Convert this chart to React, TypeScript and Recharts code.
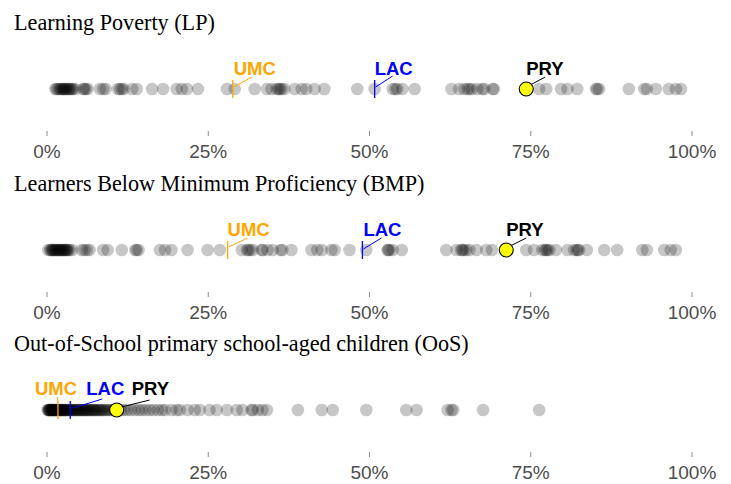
import React from 'react';
import { ScatterChart, Scatter, XAxis, YAxis } from 'recharts';

// ---------- DATA ----------
const panelTitles = [
  'Learning Poverty (LP)',
  'Learners Below Minimum Proficiency (BMP)',
  'Out-of-School primary school-aged children (OoS)',
];

const lpValues = [
  1.3, 1.5, 1.7, 2.0, 2.1, 2.3, 2.5, 2.6, 2.8, 2.9, 3.1, 3.3, 3.5, 3.6, 3.9, 4.0, 4.4, 5.6, 5.8,
  6.0, 6.3, 8.2, 8.7, 9.1, 11.0, 11.3, 11.6, 11.9, 13.2, 13.9, 16.3, 18.0, 20.1, 20.9, 21.7, 23.4,
  27.9, 29.1, 32.2, 34.1, 34.8, 35.6, 35.9, 36.1, 36.4, 36.8, 38.4, 39.5, 40.2, 41.5, 43.0, 48.1,
  50.8, 53.6, 54.0, 54.3, 55.1, 57.0, 62.7, 63.9, 64.7, 65.2, 65.5, 65.9, 66.7, 67.5, 67.8, 69.1,
  69.3, 76.3, 77.4, 79.7, 80.7, 82.2, 85.1, 85.3, 85.6, 90.2, 92.6, 93.0, 94.4, 96.4, 97.5, 98.3,
];

const bmpValues = [
  0.2, 0.5, 0.6, 0.8, 0.9, 1.0, 1.2, 1.3, 1.5, 1.6, 1.7, 1.9, 2.0, 2.2, 2.3, 2.4, 2.6, 2.7, 2.9,
  3.0, 3.1, 3.3, 3.5, 3.9, 5.4, 5.8, 6.2, 6.6, 8.7, 9.4, 11.6, 13.7, 13.9, 14.2, 17.5, 18.3, 19.3,
  21.8, 24.9, 26.8, 30.2, 31.0, 31.2, 31.5, 31.9, 33.3, 33.4, 34.2, 35.0, 36.2, 36.5, 37.9, 41.0,
  41.9, 42.6, 44.1, 44.6, 46.9, 49.5, 52.8, 52.9, 53.1, 53.6, 55.0, 61.9, 63.5, 64.2, 64.4, 64.6,
  65.0, 65.5, 66.6, 68.1, 69.0, 74.3, 75.5, 76.8, 77.2, 77.4, 77.6, 77.9, 78.9, 80.7, 81.7, 82.1,
  82.3, 82.5, 83.7, 86.4, 88.4, 92.3, 93.0, 95.7, 96.7, 97.5,
];

const oosValues = [
  0.1, 0.2, 0.3, 0.3, 0.4, 0.5, 0.5, 0.6, 0.7, 0.8, 0.8, 0.9, 1.0, 1.1, 1.1, 1.2, 1.3, 1.4, 1.5,
  1.5, 1.6, 1.7, 1.8, 1.9, 2.0, 2.1, 2.2, 2.3, 2.4, 2.5, 2.6, 2.7, 2.8, 2.9, 3.0, 3.1, 3.3, 3.4,
  3.5, 3.7, 3.8, 3.9, 4.0, 4.2, 4.3, 4.5, 4.6, 4.8, 4.9, 5.0, 5.2, 5.3, 5.5, 5.6, 5.8, 5.9, 6.1,
  6.2, 6.4, 6.5, 6.7, 6.9, 7.0, 7.2, 7.4, 7.5, 7.7, 7.9, 8.1, 8.3, 8.5, 8.7, 8.9, 9.2, 9.4, 9.7,
  10.0, 10.3, 10.6, 11.0, 11.4, 11.9, 12.4, 13.0, 13.6, 14.2, 14.7, 15.3, 15.9, 16.5, 17.2, 17.8,
  18.3, 19.3, 20.1, 20.6, 21.8, 22.9, 23.7, 25.2, 26.3, 27.9, 29.4, 30.3, 31.7, 31.9, 32.7, 33.4,
  34.1, 38.9, 42.6, 44.3, 49.5, 55.7, 57.3, 62.1, 62.7, 63.0, 67.6, 76.3,
];

const refNames = ['UMC', 'LAC', 'PRY'];
const lpRefs = [28.8, 50.8, 74.3];
const bmpRefs = [28.0, 48.9, 71.2];
const oosRefs = [1.7, 3.6, 10.8];

const tickValues = [0, 25, 50, 75, 100];

// ---------- STYLES / LAYOUT ----------
const refColors: Record<string, string> = { UMC: '#FFA500', LAC: '#0000FF', PRY: '#000000' };

type LabelLayout = { tx: number; ty: number; x1: number; y1: number; x2: number; y2: number };

const labelLayouts: Record<string, LabelLayout>[] = [
  {
    UMC: { tx: 1, ty: -14.5, x1: 1, y1: -2, x2: 19, y2: -12 },
    LAC: { tx: 0, ty: -14.5, x1: 1, y1: -2, x2: 18, y2: -13 },
    PRY: { tx: 0, ty: -14.5, x1: 4, y1: -4, x2: 19, y2: -12 },
  },
  {
    UMC: { tx: 0, ty: -14.5, x1: 1, y1: -3, x2: 20, y2: -12 },
    LAC: { tx: 1, ty: -14.5, x1: 1, y1: -1, x2: 19, y2: -12 },
    PRY: { tx: 0, ty: -14.5, x1: 4, y1: -4, x2: 20, y2: -12 },
  },
  {
    UMC: { tx: -23, ty: -15.5, x1: 0, y1: -8, x2: -1, y2: -13 },
    LAC: { tx: 16, ty: -15.5, x1: 3, y1: -2, x2: 32, y2: -11 },
    PRY: { tx: 15, ty: -15.5, x1: 5, y1: -3, x2: 33, y2: -10 },
  },
];

const panelTops = [0, 161, 321];
const CHART_W = 731;
const CHART_H = 161;

const dotShape = (props: any) => {
  const { cx, cy } = props;
  return <circle cx={cx} cy={cy} r={6.3} fill="#000" fillOpacity={0.22} />;
};

const makeRefShape = (name: string, layout: LabelLayout) => (props: any) => {
  const { cx, cy } = props;
  const color = refColors[name];
  return (
    <g>
      {name !== 'PRY' && (
        <line x1={cx} x2={cx} y1={cy - 9} y2={cy + 9} stroke={color} strokeWidth={1.3} />
      )}
      <line
        x1={cx + layout.x1}
        y1={cy + layout.y1}
        x2={cx + layout.x2}
        y2={cy + layout.y2}
        stroke={color}
        strokeWidth={1}
      />
      {name === 'PRY' && (
        <circle cx={cx} cy={cy} r={7} fill="#FFFF00" stroke="#000" strokeWidth={1.1} />
      )}
      <text
        x={cx + layout.tx}
        y={cy + layout.ty}
        fill={color}
        fontFamily="'Liberation Sans', Arial, sans-serif"
        fontWeight="bold"
        fontSize={18.5}
      >
        {name}
      </text>
    </g>
  );
};

const Panel = ({ idx, values, refs }: { idx: number; values: number[]; refs: number[] }) => {
  const dots = values.map((v) => ({ x: v, y: 0.5 }));
  return (
    <div style={{ position: 'absolute', left: 0, top: panelTops[idx], width: CHART_W, height: CHART_H }}>
      <div
        style={{
          position: 'absolute',
          left: 14,
          top: 12,
          fontFamily: "'Liberation Serif', 'Times New Roman', serif",
          fontSize: 22.2,
          lineHeight: '22px',
          color: '#000',
          whiteSpace: 'nowrap',
        }}
      >
        {panelTitles[idx]}
      </div>
      <ScatterChart
        width={CHART_W}
        height={CHART_H}
        margin={{ top: 47, right: 39, bottom: 0, left: 47 }}
      >
        <XAxis
          type="number"
          dataKey="x"
          domain={[0, 100]}
          ticks={tickValues}
          tickFormatter={(v: number) => `${v}%`}
          axisLine={false}
          tickLine={{ stroke: '#8a8a8a', strokeWidth: 1 }}
          tickSize={5}
          tickMargin={9}
          height={30}
          interval={0}
          tick={{ fill: '#4d4d4d', fontSize: 19, fontFamily: "'Liberation Sans', Arial, sans-serif" }}
        />
        <YAxis type="number" dataKey="y" domain={[0, 1]} hide />
        <Scatter data={dots} shape={dotShape} isAnimationActive={false} />
        {refNames.map((name, i) => (
          <Scatter
            key={name}
            data={[{ x: refs[i], y: 0.5 }]}
            shape={makeRefShape(name, labelLayouts[idx][name])}
            isAnimationActive={false}
          />
        ))}
      </ScatterChart>
    </div>
  );
}
;

export default function App() {
  return (
    <div style={{ position: 'absolute', left: 0, top: 0, width: 731, height: 484, background: '#fff' }}>
      <Panel idx={0} values={lpValues} refs={lpRefs} />
      <Panel idx={1} values={bmpValues} refs={bmpRefs} />
      <Panel idx={2} values={oosValues} refs={oosRefs} />
    </div>
  );
}
